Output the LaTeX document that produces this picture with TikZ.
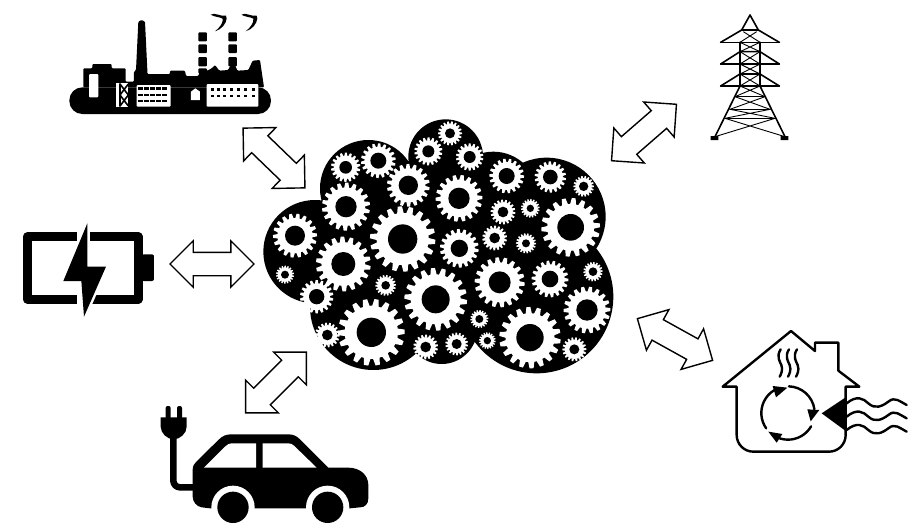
\documentclass[tikz,border=0pt]{standalone}
\usetikzlibrary{shapes.arrows}
\tikzset{
  dblarrow/.style={double arrow,draw=black,fill=white,line width=1.4pt,inner sep=0pt,
    minimum height=#1,double arrow tip angle=90,double arrow head extend=11.5pt,
    double arrow head indent=0pt,shape border rotate=0},
  thin line/.style={line width=1.6pt,line cap=round,line join=round},
  hline/.style={line width=2.4pt,line join=round,line cap=round}
}
\newcommand{\gearshape}[4]{%
  \begin{scope}[shift={(#1,#2)}]
    \pgfmathsetmacro{\ph}{mod(#1+#2,20)}
    \fill[white] (0,0) circle ({0.8*#3});
    \foreach \a in {0,20,...,340}{
      \fill[white,rotate=\a+\ph] ({0.76*#3},{-0.105*#3}) -- ({#3},{-0.065*#3}) -- ({#3},{0.065*#3}) -- ({0.76*#3},{0.105*#3}) -- cycle;
    }
    \fill[black] (0,0) circle (#4);
  \end{scope}}
\begin{document}
\begin{tikzpicture}[x=1pt,y=-1pt]
\useasboundingbox (0,0) rectangle (914,523);
\fill[white] (0,0) rectangle (914,523);

% cloud with gears
\begin{scope}[shift={(260,110)},scale=1/3]
  \fill[black] (165,425) circle (155) (325,235) circle (145) (557,140) circle (112)
    (700,260) circle (135) (860,320) circle (177) (830,560) circle (230)
    (340,590) circle (190) (545,655) circle (107);
  \fill[black] (300,200) rectangle (800,650);
  \fill[black] (800,300) rectangle (900,650);
  \gearshape{105}{377}{66}{30}
  \gearshape{75}{494}{27}{12}
  \gearshape{170}{560}{50}{23}
  \gearshape{258}{290}{72}{32}
  \gearshape{257}{172}{44}{19}
  \gearshape{355}{152}{52}{24}
  \gearshape{445}{226}{64}{29}
  \gearshape{505}{124}{42}{18}
  \gearshape{570}{70}{36}{15}
  \gearshape{629}{141}{41}{18}
  \gearshape{597}{265}{70}{32}
  \gearshape{740}{198}{52}{24}
  \gearshape{871}{201}{47}{22}
  \gearshape{971}{229}{31}{14}
  \gearshape{729}{306}{37}{16}
  \gearshape{811}{295}{28}{11}
  \gearshape{932}{352}{88}{40}
  \gearshape{704}{384}{37}{16}
  \gearshape{798}{400}{30}{12}
  \gearshape{598}{415}{58}{26}
  \gearshape{428}{387}{98}{44}
  \gearshape{250}{462}{82}{36}
  \gearshape{377}{526}{31}{13}
  \gearshape{527}{568}{94}{42}
  \gearshape{719}{517}{75}{33}
  \gearshape{870}{507}{55}{25}
  \gearshape{999}{485}{29}{13}
  \gearshape{981}{600}{70}{32}
  \gearshape{658}{627}{27}{12}
  \gearshape{810}{683}{92}{41}
  \gearshape{334}{667}{100}{44}
  \gearshape{202}{675}{37}{16}
  \gearshape{497}{711}{37}{16}
  \gearshape{590}{702}{34}{15}
  \gearshape{682}{692}{25}{11}
  \gearshape{943}{718}{36}{15}
\end{scope}

% double arrows
\node[dblarrow=84pt] (arrowbattery) at (212,264) {\rule{0pt}{22pt}};
\node[dblarrow=86pt,rotate=-44] (arrowfactory) at (274,158) {\rule{0pt}{22pt}};
\node[dblarrow=86pt,rotate=41] (arrowtower) at (644,132.5) {\rule{0pt}{22pt}};
\node[dblarrow=86pt,rotate=45] (arrowcar) at (276,382.5) {\rule{0pt}{22pt}};
\node[dblarrow=86pt,rotate=-29] (arrowhouse) at (675,339.5) {\rule{0pt}{22pt}};

% factory
\begin{scope}[shift={(60,0)},scale=1/3]
  \fill[black,rounded corners=1pt] (70,262) -- (70,205) -- (97,205) -- (97,192) -- (155,192) -- (155,205) -- (197,205) -- (197,245)
    -- (222,245) -- (222,215) -- (228,210) -- (235,65) -- (245,60) -- (255,65) -- (262,210) -- (262,222) -- (330,222) -- (330,212)
    -- (375,212) -- (378,228) -- (415,228) -- (420,212) -- (442,212) -- (455,205) -- (465,195) -- (478,212) -- (505,210)
    -- (510,198) -- (525,195) -- (532,212) -- (565,210) -- (578,182) -- (600,180) -- (612,262) -- cycle;
  \fill[black,rounded corners=13pt] (28,262) rectangle (633,342);
  \fill[white,rounded corners=1pt] (87,222) rectangle (115,292);
  \fill[white] (168,250) rectangle (205,320);
  \draw[black,line width=1.6pt] (180,250) -- (180,320)  (180,252) -- (205,285) -- (180,318) (205,252) -- (180,285) -- (205,318);
  \fill[white,rounded corners=1pt] (230,255) rectangle (332,320);
  \foreach \yy in {262,282,300}
    \foreach \xx in {235,253,271,289,307}
      \fill[black] (\xx,\yy) rectangle ++(14,7);
  \fill[white] (393,300) -- (393,275) -- (406,265) -- (420,275) -- (420,300) -- cycle;
  \fill[white,rounded corners=1pt] (440,252) rectangle (595,320);
  \foreach \yy in {265,284}
    \foreach \xx in {452,470,488,510,530,552,575}
      \fill[black] (\xx,\yy) rectangle ++(9,8);
  \foreach \xx in {415,505}{
    \fill[black,rounded corners=1pt] (\xx,97) rectangle ++(26,27);
    \fill[black,rounded corners=1pt] (\xx,133) rectangle ++(26,26);
    \fill[black,rounded corners=1pt] (\xx,171) rectangle ++(26,28);
    \fill[black,rounded corners=1pt] (\xx,205) rectangle ++(26,15);
  }
  \foreach \dx in {0,92}{
    \fill[black] (452+\dx,44) .. controls (465+\dx,36) and (480+\dx,50) .. (498+\dx,47) -- (500+\dx,56) .. controls (498+\dx,72) and (485+\dx,88) .. (465+\dx,94) .. controls (480+\dx,82) and (490+\dx,68) .. (488+\dx,56) .. controls (478+\dx,50) and (465+\dx,52) .. (452+\dx,44) -- cycle;
  }
\end{scope}

% battery
\begin{scope}[shift={(10,220)},scale=1/3]
  \draw[black,line width=8.5pt,line join=round] (200,50) -- (52,50) -- (52,238) -- (200,238);
  \draw[black,line width=8.5pt,line join=round] (240,50) -- (385,50) -- (385,238) -- (240,238);
  \fill[black,rounded corners=2pt] (395,103) -- (432,103) -- (432,183) -- (395,183) -- cycle;
  \path[fill=black,draw=white,line width=5pt,line join=miter] (232,10) -- (160,183) -- (214,183) -- (222,290) -- (288,140) -- (232,140) -- cycle;
  \fill[black] (232,10) -- (160,183) -- (214,183) -- (222,290) -- (288,140) -- (232,140) -- cycle;
\end{scope}

% tower
\begin{scope}[shift={(690,0)},scale=1/3]
  \draw[thin line] (92,127) -- (268,127) (92,192) -- (268,192) (92,258) -- (268,258);
  \draw[thin line] (92,127) -- (155,90) -- (205,90) -- (268,127)
     (92,192) -- (150,155) -- (210,155) -- (268,192)
     (92,258) -- (150,222) -- (210,222) -- (268,258);
  \draw[thin line] (155,90) -- (180,45) -- (205,90);
  \draw[thin line] (150,127) -- (150,258) (210,127) -- (210,258);
  \draw[thin line] (150,258) -- (75,410) (210,258) -- (285,410);
  \draw[thin line] (135,290) -- (225,290) (120,328) -- (240,328) (105,355) -- (255,355);
  \draw[line width=.9pt] (160,95) -- (210,127) (200,95) -- (150,127)
     (150,127) -- (210,155) (210,127) -- (150,155)
     (150,155) -- (210,192) (210,155) -- (150,192)
     (150,192) -- (210,222) (210,192) -- (150,222)
     (150,222) -- (210,258) (210,222) -- (150,258)
     (150,258) -- (225,290) (210,258) -- (135,290)
     (135,290) -- (240,328) (225,290) -- (120,328)
     (120,328) -- (255,355) (240,328) -- (105,355)
     (105,355) -- (285,410) (255,355) -- (75,410);
  \fill[black] (62,408) rectangle (85,420) (272,408) rectangle (295,420);
\end{scope}

% house
\begin{scope}[shift={(700,320)},scale=1/3]
  \draw[hline] (110,200) -- (68,200) -- (273,33) -- (345,93) -- (345,68) -- (415,68) -- (415,152) -- (478,200) -- (437,200)
     -- (437,345) arc[start angle=0,end angle=90,radius=50] -- (160,395) arc[start angle=90,end angle=180,radius=50] -- cycle;
  \fill[black] (365,280) -- (440,230) -- (440,335) -- cycle;
  \foreach \yy in {250,290,330}
    \draw[hline] (440,\yy) .. controls (470,\yy-25) and (490,\yy-15) .. (505,\yy) .. controls (525,\yy+18) and (545,\yy+10) .. (565,\yy-5) .. controls (585,\yy-22) and (600,\yy-5) .. (620,\yy+5);
  \foreach \xx in {242,267,291}
    \draw[hline] (\xx,88) .. controls (\xx-14,110) and (\xx-2,125) .. (\xx+2,135) .. controls (\xx+8,150) and (\xx,165) .. (\xx-3,170);
  % circular arrows
  \draw[hline] ([shift={(264,279)}]-88:80) arc[start angle=-88,end angle=-8,radius=80];
  \draw[hline] ([shift={(264,279)}]30:80) arc[start angle=30,end angle=122,radius=80];
  \draw[hline] ([shift={(264,279)}]145:80) arc[start angle=145,end angle=240,radius=80];
  \fill[black] (218,198) -- (262,203) -- (228,232) -- cycle;
  \fill[black] (322,268) -- (358,270) -- (332,304) -- cycle;
  \fill[black] (205,335) -- (247,342) -- (230,368) -- cycle;
\end{scope}

% car
\begin{scope}[shift={(150,400)},scale=1/3]
  \draw[black,line width=6.5pt,line join=round] (130,262) -- (90,262) arc[start angle=90,end angle=180,radius=20] -- (70,105);
  \fill[black] (32,52) -- (110,52) -- (110,80) .. controls (110,100) and (90,118) .. (71,118) .. controls (52,118) and (32,100) .. (32,80) -- cycle;
  \fill[black,rounded corners=2pt] (47,18) rectangle (62,58) (81,18) rectangle (96,58);
  \fill[black] (128,210) .. controls (128,198) and (132,192) .. (138,186) -- (205,120) .. controls (218,107) and (228,103) .. (245,103)
    -- (415,103) .. controls (430,103) and (440,108) .. (450,118) -- (535,203) -- (595,203) .. controls (630,203) and (655,225) .. (655,255)
    -- (655,295) .. controls (655,312) and (645,322) .. (630,322) -- (600,325) -- (180,325) -- (155,322) .. controls (140,320) and (128,305) .. (128,290) -- cycle;
  \fill[white] (162,203) -- (225,140) .. controls (232,133) and (238,130) .. (245,130) -- (318,130) -- (318,203) -- cycle;
  \fill[white] (338,203) -- (338,130) -- (415,130) .. controls (423,130) and (428,133) .. (433,138) -- (500,203) -- cycle;
  \fill[white] (249,322) circle (65) (533,322) circle (65);
  \fill[black] (249,322) circle (47) (533,322) circle (47);
\end{scope}
\end{tikzpicture}
\end{document}
